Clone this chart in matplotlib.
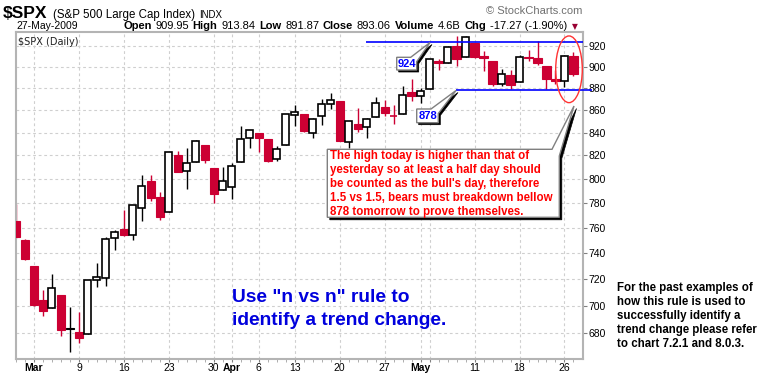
import matplotlib
matplotlib.use("Agg")
import matplotlib.pyplot as plt
from matplotlib.patches import Polygon, Ellipse
from matplotlib.ticker import NullLocator

plt.rcParams['font.family'] = ['Liberation Sans', 'DejaVu Sans']

# ---- DATA: $SPX daily, 26-Feb-2009 .. 27-May-2009 ----
prev_close = 764.90   # close of the day before the first candle
opens = [765.50, 749.93, 729.57, 704.44, 698.60, 708.27, 684.04, 680.76, 679.28, 719.59,
         720.89, 751.97, 758.84, 753.88, 776.01, 797.92, 784.58, 772.31, 820.60, 806.81,
         814.06, 828.68, 809.07, 790.88, 793.59, 814.53, 835.13, 839.75, 834.12, 816.76,
         829.29, 855.33, 856.88, 839.44, 854.54, 865.18, 868.27, 831.25, 847.26, 844.62,
         853.91, 862.82, 854.48, 856.85, 876.59, 872.74, 879.21, 906.10, 903.95, 919.58,
         909.03, 922.99, 910.52, 905.40, 884.24, 892.76, 886.07, 909.67, 908.62, 900.42,
         888.68, 887.00, 909.95]
highs = [779.42, 751.27, 729.57, 711.67, 724.12, 708.27, 699.09, 695.27, 719.60, 731.92,
         752.63, 758.29, 774.53, 778.12, 803.04, 803.24, 788.91, 823.37, 823.65, 826.78,
         832.98, 828.68, 809.07, 810.48, 813.62, 845.61, 842.50, 839.75, 834.12, 828.42,
         856.91, 864.31, 856.88, 852.93, 870.35, 875.63, 868.27, 850.09, 861.78, 852.87,
         871.80, 868.83, 864.48, 882.06, 888.70, 880.48, 907.85, 907.70, 920.28, 929.58,
         930.17, 922.99, 915.57, 905.40, 898.36, 896.97, 911.24, 916.39, 924.60, 900.42,
         896.65, 911.76, 913.84]
lows = [751.75, 734.52, 699.70, 692.30, 698.60, 677.93, 666.79, 672.88, 679.28, 713.85,
        714.76, 742.46, 753.37, 749.93, 765.64, 781.82, 766.20, 772.31, 805.48, 791.37,
        814.06, 813.43, 779.81, 790.88, 783.32, 814.53, 826.70, 822.79, 814.53, 814.84,
        829.29, 845.35, 840.25, 835.58, 847.04, 860.87, 832.39, 826.83, 840.57, 835.45,
        853.91, 854.65, 847.12, 856.85, 868.51, 866.10, 879.21, 897.34, 903.95, 901.36,
        909.03, 908.68, 896.46, 882.27, 882.52, 878.94, 886.07, 905.22, 901.37, 879.61,
        883.75, 881.46, 891.87]
closes = [752.83, 735.09, 700.82, 696.33, 712.87, 682.55, 683.38, 676.53, 719.60, 721.36,
          750.74, 756.55, 753.89, 778.12, 794.35, 784.04, 768.54, 822.92, 806.12, 813.88,
          832.86, 815.94, 787.53, 797.87, 811.08, 834.38, 842.50, 835.48, 815.55, 825.16,
          856.56, 858.73, 841.50, 852.06, 865.30, 869.60, 832.39, 850.08, 843.55, 851.92,
          866.23, 857.51, 855.16, 873.64, 872.81, 877.52, 907.24, 903.80, 919.53, 907.39,
          929.23, 909.24, 908.35, 883.92, 893.07, 882.88, 909.71, 908.13, 903.47, 888.33,
          887.00, 910.33, 893.06]

# axis ticks (trading-day index -> label)
xtick_idx    = [2, 7, 12, 17, 22, 24, 27, 31, 36, 41, 45, 46, 51, 56, 61]
xtick_labels = ['Mar', '9', '16', '23', '30', 'Apr', '6', '13', '20', '27', 'May', '', '11', '18', '26']
months       = ['Mar', 'Apr', 'May']
yticks       = [680, 700, 720, 740, 760, 780, 800, 820, 840, 860, 880, 900, 920]

resistance = 924
support    = 878

header_parts = [("Open", True), ("909.95", False), ("High", True), ("913.84", False),
                ("Low", True), ("891.87", False), ("Close", True), ("893.06", False),
                ("Volume", True), ("4.6B", False), ("Chg", True), ("-17.27 (-1.90%)", False)]

note_lines = ["The high today is higher than that of",
              "yesterday so at least a half day should",
              "be counted as the bull's day, therefore",
              "1.5 vs 1.5, bears must breakdown bellow",
              "878 tomorrow to prove themselves."]
rule_lines = ['Use "n vs n" rule to', 'identify a trend change.']
side_lines = ["For the past examples of",
              "how this rule is used to",
              "successfully identify a",
              "trend change please refer",
              "to chart 7.2.1 and 8.0.3."]

# ---- STYLE ----
W, H = 770, 376
RED    = '#cc0033'
GRID   = '#cfcfcf'
FRAME  = '#b4b4b4'
BLUE   = '#0000ff'


def fpx(x, y):
    """pixel (from top-left) -> figure fraction"""
    return (x / W, 1 - y / H)


fig = plt.figure(figsize=(W / 100, H / 100), dpi=100)
fig.patch.set_facecolor('white')
ax = fig.add_axes([16 / W, 1 - 359 / H, (583 - 16) / W, (359 - 32) / H])

# ---- candles ----
pc = prev_close
for i, (o, h, l, c) in enumerate(zip(opens, highs, lows, closes)):
    col = RED if c < pc else 'black'
    ax.vlines(i, l, h, color=col, lw=1.0, zorder=2)
    lo, hi = min(o, c), max(o, c)
    if c < o:
        ax.bar(i, hi - lo, bottom=lo, width=0.92, color=col, edgecolor=col, lw=0.8, zorder=3)
    else:
        ax.bar(i, max(hi - lo, 0.3), bottom=lo, width=0.78, color='white', edgecolor=col,
               lw=1.2, zorder=3)
    pc = c

ax.set_yscale('log')
ax.set_ylim(661.9, 933.7)
ax.set_xlim(0.056, 63.06)

ax.yaxis.tick_right()
ax.set_yticks(yticks)
ax.set_yticklabels([str(v) for v in yticks])
ax.yaxis.set_minor_locator(NullLocator())
ax.set_xticks(xtick_idx)
ax.set_xticklabels(xtick_labels)
ax.set_xticks(range(len(closes)), minor=True)
for lab in ax.get_xticklabels():
    if lab.get_text() in months:
        lab.set_fontweight('bold')
ax.tick_params(axis='y', which='major', length=3, pad=1, labelsize=7.5, color='#808080')
ax.tick_params(axis='x', which='major', length=2, pad=1, labelsize=7.5, color='#808080')
ax.tick_params(axis='x', which='minor', length=2, color='#a0a0a0')
ax.grid(True, which='major', color=GRID, lw=0.8, ls=(0, (2.5, 2.5)), zorder=0)
for s in ax.spines.values():
    s.set_color(FRAME)
    s.set_linewidth(1.5)

ax.text(0.004, 0.985, "$SPX (Daily)", transform=ax.transAxes, ha='left', va='top',
        fontsize=7, family='DejaVu Sans', color='#202020')

# ---- support / resistance ----
ax.hlines(resistance, 38.9, 63.06, color=BLUE, lw=1.2, zorder=4)
ax.hlines(support, 48.9, 64.06, color=BLUE, lw=1.2, zorder=4, clip_on=False)

# ---- header ----
renderer = fig.canvas.get_renderer()
fig.text(3 / W, 1 - 18 / H, "$SPX", fontsize=12.5, fontweight='bold', va='baseline')
t = fig.text(53 / W, 1 - 18 / H, "(S&P 500 Large Cap Index)", fontsize=8.3, va='baseline')
fig.text((t.get_window_extent(renderer).x1 + 4) / W, 1 - 18 / H, "INDX", fontsize=7,
         va='baseline')
fig.text(16 / W, 1 - 29 / H, "27-May-2009", fontsize=7.5, va='baseline')
fig.text(582 / W, 1 - 14 / H, "\u00a9 StockCharts.com", fontsize=8, color='#707070',
         ha='right', va='baseline')

xcur = 123
for txt, bold in header_parts:
    t = fig.text(xcur / W, 1 - 29 / H, txt, fontsize=8, va='baseline',
                 fontweight='bold' if bold else 'normal')
    xcur = t.get_window_extent(renderer).x1 + 3.8
fig.text((xcur + 1) / W, 1 - 29 / H, "\u25bc", fontsize=5.5, color='#990033',
         family='DejaVu Sans', va='baseline')


# ---- callouts ----
def callout(x0, y0, x1, y1, tail, sh=2.5):
    (bx, tx, ty, ry) = tail
    pts = [(x0, y0), (bx, y0), (tx, ty), (x1, ry), (x1, y1), (x0, y1)]
    shadow = Polygon([fpx(x + sh, y + sh) for x, y in pts], closed=True,
                     transform=fig.transFigure, facecolor='black', edgecolor='black', lw=0.5)
    body = Polygon([fpx(x, y) for x, y in pts], closed=True, transform=fig.transFigure,
                   facecolor='white', edgecolor='#808080', lw=1.0)
    fig.add_artist(shadow)
    fig.add_artist(body)


callout(396.7, 57.3, 416.7, 70.0, (410.7, 430.0, 42.5, 61.7), sh=2)
callout(416.7, 109.0, 438.3, 122.7, (431.0, 456.0, 90.5, 113.5), sh=2)
callout(327.3, 149.3, 559.3, 217.3, (552.0, 574.0, 106.0, 156.0), sh=2.5)

fig.text(406.7 / W, 1 - 63.9 / H, str(resistance), fontsize=8, fontweight='bold', color=BLUE,
         ha='center', va='center', zorder=5)
fig.text(427.5 / W, 1 - 116 / H, str(support), fontsize=8, fontweight='bold', color=BLUE,
         ha='center', va='center', zorder=5)

for k, line in enumerate(note_lines):
    fig.text(329.5 / W, 1 - (159.3 + 14 * k) / H, line, fontsize=8.3, fontweight='bold',
             color='#ff0000', va='baseline', zorder=5)

for k, line in enumerate(rule_lines):
    fig.text(232.3 / W, 1 - (301.7 + 23.3 * k) / H, line, fontsize=13.8, fontweight='bold',
             color='#0000dd', va='baseline')

for k, line in enumerate(side_lines):
    fig.text(616.7 / W, 1 - (291.5 + 13.9 * k) / H, line, fontsize=8.3, fontweight='bold',
             color='black', va='baseline')

fig.add_artist(Ellipse(fpx(569, 69.3), 26.6 / W, 66.7 / H, transform=fig.transFigure,
                       facecolor='none', edgecolor='#ff3333', lw=1.0))

fig.savefig('out.png', dpi=100)
